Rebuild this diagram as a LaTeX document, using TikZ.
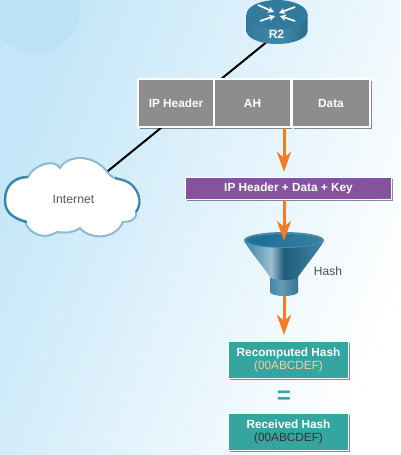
\documentclass[tikz,border=0pt]{standalone}
\usepackage{fontspec}
\setmainfont{Liberation Sans}
\usetikzlibrary{arrows.meta, shadows}
\definecolor{skyblue}{HTML}{C3E6F8}
\definecolor{spot}{HTML}{B5DFF6}
\definecolor{cellgray}{HTML}{8E8C8C}
\definecolor{keypurple}{HTML}{85539B}
\definecolor{hashgreen}{HTML}{35A69F}
\definecolor{flowgold}{HTML}{F47B20}
\definecolor{pale}{HTML}{F2CFA5}
\definecolor{steel}{HTML}{1F7096}
\definecolor{steeldark}{HTML}{135574}
\definecolor{cloudline}{HTML}{3A86AF}
\definecolor{cloudpale}{HTML}{8DBAD3}
\pgfdeclarelayer{backdrop}
\pgfdeclarelayer{wire}
\pgfsetlayers{backdrop,wire,main}
\pgfdeclarehorizontalshading{conefill}{100bp}{
  color(0bp)=(steel!90!white); color(30bp)=(steel!75!white); color(42bp)=(steel!45!white);
  color(50bp)=(steeldark!95!white); color(75bp)=(steel!85!white); color(100bp)=(steel)}
\pgfdeclarehorizontalshading{stemfill}{100bp}{
  color(0bp)=(steel); color(45bp)=(steel!70!white); color(100bp)=(steeldark)}
\pgfdeclarehorizontalshading{mouthfill}{100bp}{
  color(0bp)=(steel!90!white); color(35bp)=(steel); color(70bp)=(steel!90!white); color(100bp)=(steel!70!white)}
\pgfdeclarehorizontalshading{bodyfill}{100bp}{
  color(0bp)=(steeldark); color(30bp)=(steel!90!white); color(55bp)=(steel!85!white); color(100bp)=(steeldark!90!black)}
\tikzset{
  soft/.style={drop shadow={shadow xshift=1.5pt, shadow yshift=-1.5pt, opacity=0.45, fill=black}},
  cell/.style={draw=white, line width=1.6pt, fill=cellgray, soft, text=white, font=\fontsize{11.8}{13}\selectfont\bfseries, minimum height=48pt, inner sep=0pt},
  hashbox/.style={draw=white, line width=1.2pt, fill=hashgreen, soft, text=white, minimum width=120pt, minimum height=37pt, inner sep=0pt, align=center, font=\fontsize{11.8}{14.5}\selectfont},
  flow/.style={draw=flowgold, line width=3pt, -{Stealth[length=20pt, width=14pt, inset=6pt]}},
  link/.style={draw=black, line width=2pt},
  rarrow/.style={white, line width=1.7pt, -{Stealth[length=6pt, width=6.5pt]}},
}
\begin{document}
\begin{tikzpicture}[x=1pt, y=-1pt]
  \useasboundingbox (0, 0) rectangle (400, 455);

  \begin{pgfonlayer}{backdrop}
    \clip (0, 0) rectangle (400, 455);
    \shade[left color=skyblue, right color=white, shading angle=68] (0, 0) rectangle (400, 455);
    \fill[spot, opacity=0.45] (35, 7) circle (46pt);
  \end{pgfonlayer}

  % router
  \shade[shading=bodyfill]
    (246.5, 14) -- (246.5, 31) arc[start angle=180, end angle=360, x radius=30.5pt, y radius=13pt] -- (307.5, 14) -- cycle;
  \fill[steel!92!white] (277, 14.5) ellipse[x radius=30.5pt, y radius=14.5pt];
  \draw[rarrow] (258, 5) -- (274, 12);
  \draw[rarrow] (295, 7) -- (279, 13);
  \draw[rarrow] (260, 21) -- (275, 16);
  \draw[rarrow] (295, 21) -- (280, 16);
  \node[text=white, font=\fontsize{12}{13}\selectfont\bfseries, inner sep=0pt] (r2) at (276.5, 34) {R2};

  % cloud
  \path[fill=white, draw=cloudpale, line width=2pt]
    (5, 200) .. controls (5, 185) and (15, 177) .. (28, 177)
    .. controls (33, 165) and (55, 158) .. (60, 168)
    .. controls (68, 154) and (95, 154) .. (108, 173)
    .. controls (115, 182) and (125, 177) .. (133, 186)
    .. controls (141, 195) and (141, 205) .. (136, 212)
    .. controls (137, 220) and (130, 222) .. (123, 222)
    .. controls (115, 240) and (90, 240) .. (80, 228)
    .. controls (73, 233) and (66, 233) .. (57, 232)
    .. controls (45, 240) and (30, 235) .. (25, 222)
    .. controls (12, 218) and (5, 212) .. (5, 200) -- cycle;
  \draw[cloudline, line width=2.4pt] (27, 222) .. controls (12, 218) and (5, 212) .. (5, 200)
    .. controls (5, 185) and (15, 177) .. (28, 177);
  \draw[cloudline, line width=2.2pt] (115, 178) .. controls (122, 180) and (127, 180) .. (133, 186)
    .. controls (141, 195) and (141, 205) .. (136, 212);
  \node[text=black!65, font=\fontsize{12.3}{13}\selectfont, inner sep=0pt] (internet) at (73.5, 199) {Internet};

  \begin{pgfonlayer}{wire}
    \draw[link] (r2) -- (internet);
  \end{pgfonlayer}

  % packet
  \node[cell, minimum width=76pt] (iphdr) at (176, 103) {IP Header};
  \node[cell, minimum width=76pt] (ah) at (252.5, 103) {AH};
  \node[cell, minimum width=78pt] (payload) at (331, 103) {Data};

  \node[draw=white, line width=1.2pt, fill=keypurple, soft, text=white, minimum width=206pt, minimum height=22pt, inner sep=0pt,
    font=\fontsize{11.8}{13}\selectfont\bfseries] (keyed) at (288.5, 188.5) {\raisebox{1.5pt}{IP Header + Data + Key}};

  % funnel
  \coordinate (funtop) at (284, 241);
  \coordinate (funbot) at (284, 296);
  \shade[shading=stemfill]
    (270, 270) -- (270, 292) arc[start angle=180, end angle=360, x radius=14pt, y radius=4pt] -- (298, 270) -- cycle;
  \shade[shading=conefill]
    (244, 241) .. controls (252, 254) and (262, 265) .. (270, 277) arc[start angle=180, end angle=360, x radius=14pt, y radius=3pt]
    .. controls (306, 265) and (316, 254) .. (324, 241) -- cycle;
  \fill[steel!80!white] (284, 240) ellipse[x radius=40pt, y radius=8pt];
  \shade[shading=mouthfill] (284, 240.5) ellipse[x radius=37.5pt, y radius=6.5pt];
  \node[text=black!70, font=\fontsize{12}{13}\selectfont, inner sep=0pt] (hashlabel) at (328, 271) {Hash};

  \node[hashbox] (recomputed) at (288.5, 360) {\textbf{Recomputed Hash}\\[-1pt]\textcolor{pale}{(00ABCDEF)}};
  \node[hashgreen, font=\fontsize{24}{24}\selectfont\bfseries, inner sep=0pt] (equal) at (284, 397.5) {=};
  \node[hashbox] (received) at (288.5, 432) {\textbf{Received Hash}\\[-1pt]\textcolor{black!80}{(00ABCDEF)}};

  \draw[flow, shorten >=5pt] (ah.south -| funtop) -- (keyed.north -| funtop);
  \draw[flow] (keyed.south -| funtop) -- (funtop);
  \draw[flow, shorten >=6pt] (funbot) -- (recomputed.north -| funbot);
\end{tikzpicture}
\end{document}
